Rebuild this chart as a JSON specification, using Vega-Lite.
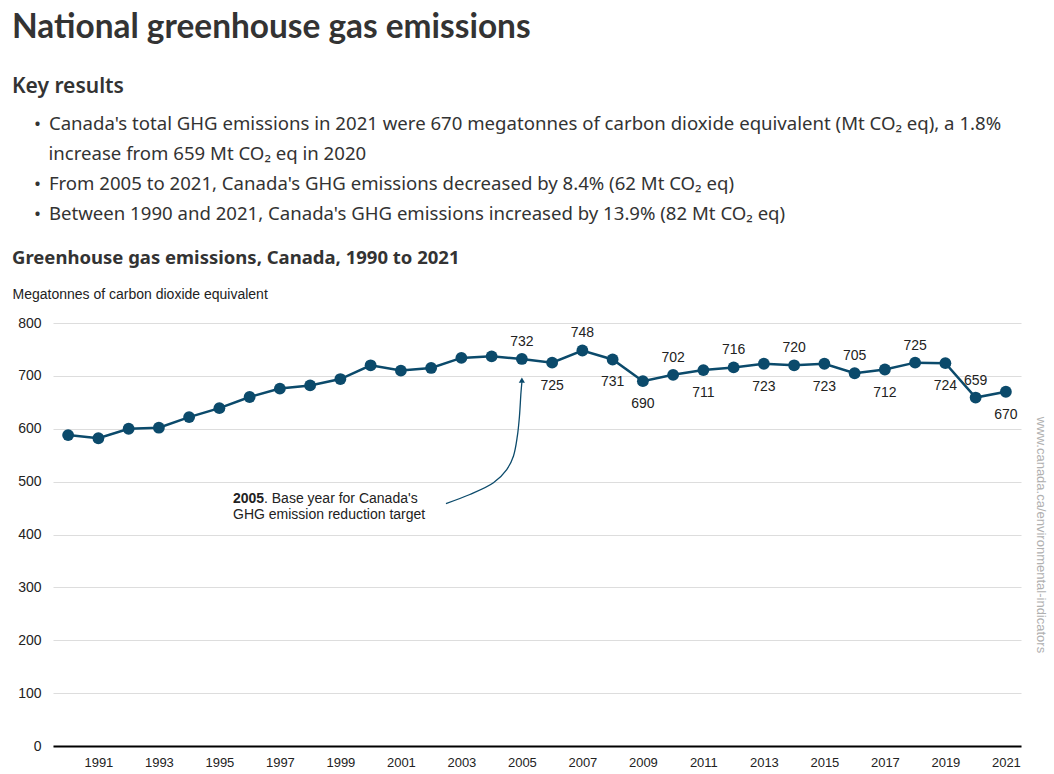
{
  "$schema": "https://vega.github.io/schema/vega-lite/v6.json",
  "background": "white",
  "padding": {"left": 12, "top": 10, "right": 4, "bottom": 2},
  "config": {"view": {"stroke": null}, "concat": {"spacing": 0}},
  "title": {"text": "National greenhouse gas emissions", "anchor": "start", "font": "Lato", "fontSize": 33.4, "fontWeight": "bold", "color": "#333333", "offset": 31},
  "datasets": {
    "ghg": [
      {"year": 1990, "value": 588}, {"year": 1991, "value": 582}, {"year": 1992, "value": 600}, {"year": 1993, "value": 602},
      {"year": 1994, "value": 622}, {"year": 1995, "value": 639}, {"year": 1996, "value": 660}, {"year": 1997, "value": 676},
      {"year": 1998, "value": 682}, {"year": 1999, "value": 694}, {"year": 2000, "value": 720}, {"year": 2001, "value": 710},
      {"year": 2002, "value": 715}, {"year": 2003, "value": 734}, {"year": 2004, "value": 737}, {"year": 2005, "value": 732},
      {"year": 2006, "value": 725}, {"year": 2007, "value": 748}, {"year": 2008, "value": 731}, {"year": 2009, "value": 690},
      {"year": 2010, "value": 702}, {"year": 2011, "value": 711}, {"year": 2012, "value": 716}, {"year": 2013, "value": 723},
      {"year": 2014, "value": 720}, {"year": 2015, "value": 723}, {"year": 2016, "value": 705}, {"year": 2017, "value": 712},
      {"year": 2018, "value": 725}, {"year": 2019, "value": 724}, {"year": 2020, "value": 659}, {"year": 2021, "value": 670}
    ],
    "arrow": [
      {"i": 1, "year": 2002.49, "value": 458.6},
      {"i": 2, "year": 2003.28, "value": 475.7},
      {"i": 3, "year": 2004.06, "value": 497.8},
      {"i": 4, "year": 2004.5, "value": 522.9},
      {"i": 5, "year": 2004.72, "value": 548.1},
      {"i": 6, "year": 2004.85, "value": 585.9},
      {"i": 7, "year": 2004.92, "value": 623.7},
      {"i": 8, "year": 2004.97, "value": 668.0},
      {"i": 9, "year": 2005.0, "value": 688.0}
    ],
    "arrowhead": [{"year": 2005.0, "value": 692}],
    "note": [
      {"part": "bold", "year": 1995.45, "value": 467.5, "text": "2005"},
      {"part": "rest", "year": 1995.45, "value": 467.5, "text": ". Base year for Canada's"},
      {"part": "line2", "year": 1995.45, "value": 437.8, "text": "GHG emission reduction target"}
    ]
  },
  "vconcat": [
    {
      "width": 968, "height": 1,
      "data": {"values": []},
      "mark": "rule", "encoding": {},
      "title": {"text": "Key results", "anchor": "start", "dx": -41, "font": "Noto Sans", "fontSize": 21, "fontWeight": 600, "color": "#333333", "offset": 17}
    },
    {
      "width": 968, "height": 5,
      "data": {"values": []},
      "mark": "rule", "encoding": {},
      "title": {
        "text": [
          "•\u2009 Canada's total GHG emissions in 2021 were 670 megatonnes of carbon dioxide equivalent (Mt CO₂ eq), a 1.8%",
          "\u200b\u00a0\u00a0\u00a0increase from 659 Mt CO₂ eq in 2020",
          "•\u2009 From 2005 to 2021, Canada's GHG emissions decreased by 8.4% (62 Mt CO₂ eq)",
          "•\u2009 Between 1990 and 2021, Canada's GHG emissions increased by 13.9% (82 Mt CO₂ eq)"
        ],
        "anchor": "start", "dx": -19, "font": "Noto Sans", "fontSize": 18.6, "fontWeight": "normal", "color": "#333333", "lineHeight": 30, "offset": 20
      }
    },
    {
      "width": 968, "height": 423,
      "title": {"text": "Greenhouse gas emissions, Canada, 1990 to 2021", "anchor": "start", "frame": "bounds", "font": "Noto Sans", "fontSize": 18.5, "fontWeight": "bold", "color": "#333333", "offset": 19.5},
      "resolve": {"axis": {"y": "independent"}},
      "layer": [
        {
          "data": {"name": "ghg"},
          "mark": {"type": "line", "color": "#0b4a6b", "strokeWidth": 2.5},
          "encoding": {
            "x": {"field": "year", "type": "quantitative",
                  "scale": {"domain": [1989.5, 2021.5], "nice": false, "zero": false},
                  "axis": {"orient": "bottom", "title": null, "values": [1991, 1993, 1995, 1997, 1999, 2001, 2003, 2005, 2007, 2009, 2011, 2013, 2015, 2017, 2019, 2021],
                           "format": "d", "grid": false, "ticks": false, "domain": true, "domainColor": "#000000", "domainWidth": 2,
                           "labelFont": "Liberation Sans", "labelFontSize": 13, "labelColor": "#222222", "labelPadding": 10}},
            "y": {"field": "value", "type": "quantitative",
                  "scale": {"domain": [0, 800], "nice": false},
                  "axis": {"orient": "left", "values": [0, 100, 200, 300, 400, 500, 600, 700, 800], "grid": true, "gridColor": "#dddddd", "gridWidth": 1,
                           "domain": false, "ticks": false, "labelFont": "Liberation Sans", "labelFontSize": 14, "labelColor": "#222222", "labelPadding": 12,
                           "title": "Megatonnes of carbon dioxide equivalent", "titleAngle": 0, "titleAlign": "left", "titleBaseline": "middle",
                           "titleX": -41, "titleY": -29, "titleFont": "Liberation Sans", "titleFontSize": 14, "titleFontWeight": "normal", "titleColor": "#222222"}}
          }
        },
        {
          "data": {"name": "ghg"},
          "mark": {"type": "point", "filled": true, "color": "#0b4a6b", "size": 140, "opacity": 1},
          "encoding": {
            "x": {"field": "year", "type": "quantitative"},
            "y": {"field": "value", "type": "quantitative", "axis": null}
          }
        },
        {
          "data": {"name": "ghg"},
          "transform": [{"filter": {"field": "year", "oneOf": [2005, 2007, 2010, 2012, 2014, 2016, 2018, 2020]}}],
          "mark": {"type": "text", "dy": -17, "baseline": "middle", "align": "center", "font": "Liberation Sans", "fontSize": 14, "color": "#222222"},
          "encoding": {
            "x": {"field": "year", "type": "quantitative"},
            "y": {"field": "value", "type": "quantitative", "axis": null},
            "text": {"field": "value", "type": "quantitative"}
          }
        },
        {
          "data": {"name": "ghg"},
          "transform": [{"filter": {"field": "year", "oneOf": [2006, 2008, 2009, 2011, 2013, 2015, 2017, 2019, 2021]}}],
          "mark": {"type": "text", "dy": 23, "baseline": "middle", "align": "center", "font": "Liberation Sans", "fontSize": 14, "color": "#222222"},
          "encoding": {
            "x": {"field": "year", "type": "quantitative"},
            "y": {"field": "value", "type": "quantitative", "axis": null},
            "text": {"field": "value", "type": "quantitative"}
          }
        },
        {
          "data": {"name": "arrow"},
          "mark": {"type": "line", "color": "#0b4a6b", "strokeWidth": 1.3, "interpolate": "catmull-rom"},
          "encoding": {
            "x": {"field": "year", "type": "quantitative"},
            "y": {"field": "value", "type": "quantitative", "axis": null},
            "order": {"field": "i", "type": "quantitative"}
          }
        },
        {
          "data": {"name": "arrowhead"},
          "mark": {"type": "point", "shape": "triangle-up", "filled": true, "color": "#0b4a6b", "size": 38, "opacity": 1},
          "encoding": {
            "x": {"field": "year", "type": "quantitative"},
            "y": {"field": "value", "type": "quantitative", "axis": null}
          }
        },
        {
          "data": {"name": "note"},
          "transform": [{"filter": "datum.part == 'bold'"}],
          "mark": {"type": "text", "align": "left", "baseline": "middle", "font": "Liberation Sans", "fontSize": 14, "fontWeight": "bold", "color": "#222222"},
          "encoding": {
            "x": {"field": "year", "type": "quantitative"},
            "y": {"field": "value", "type": "quantitative", "axis": null},
            "text": {"field": "text"}
          }
        },
        {
          "data": {"name": "note"},
          "transform": [{"filter": "datum.part == 'rest'"}],
          "mark": {"type": "text", "align": "left", "baseline": "middle", "dx": 31, "font": "Liberation Sans", "fontSize": 14, "color": "#222222"},
          "encoding": {
            "x": {"field": "year", "type": "quantitative"},
            "y": {"field": "value", "type": "quantitative", "axis": null},
            "text": {"field": "text"}
          }
        },
        {
          "data": {"name": "note"},
          "transform": [{"filter": "datum.part == 'line2'"}],
          "mark": {"type": "text", "align": "left", "baseline": "middle", "font": "Liberation Sans", "fontSize": 14, "color": "#222222"},
          "encoding": {
            "x": {"field": "year", "type": "quantitative"},
            "y": {"field": "value", "type": "quantitative", "axis": null},
            "text": {"field": "text"}
          }
        },
        {
          "data": {"name": "ghg"},
          "mark": {"type": "point", "opacity": 0},
          "encoding": {
            "x": {"field": "year", "type": "quantitative"},
            "y": {"field": "value", "type": "quantitative",
                  "axis": {"orient": "right", "labels": false, "ticks": false, "domain": false, "grid": false,
                           "title": "www.canada.ca/environmental-indicators", "titleAngle": 90, "titleFont": "Liberation Sans", "titleFontSize": 13,
                           "titleFontWeight": "normal", "titleColor": "#b0b0b0", "titlePadding": 12}}
          }
        }
      ]
    }
  ]
}
